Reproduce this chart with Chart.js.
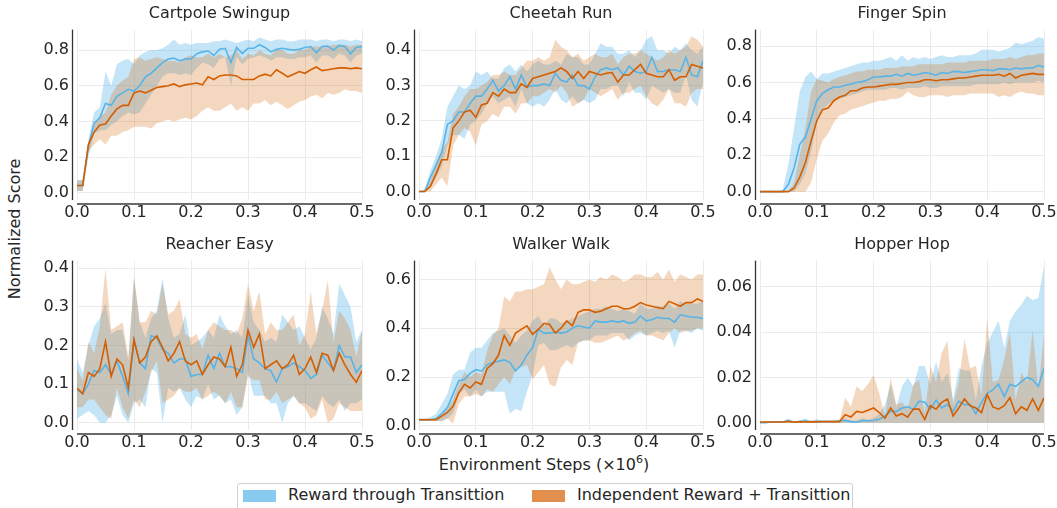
<!DOCTYPE html>
<html>
<head>
<meta charset="utf-8">
<script src="https://cdn.jsdelivr.net/npm/chart.js@4.4.0/dist/chart.umd.min.js"></script>
<style>
html,body{margin:0;padding:0;background:#fff;}
#fig{position:relative;width:1057px;height:508px;overflow:hidden;font-family:"DejaVu Sans",sans-serif;color:#262626;}
#fig canvas{position:absolute;}
.ttl{position:absolute;font-size:16px;line-height:18px;white-space:nowrap;transform:translateX(-50%);}
#ylab{position:absolute;left:15px;top:229px;font-size:16px;line-height:18px;white-space:nowrap;transform:translate(-50%,-50%) rotate(-90deg);}
#xlab{position:absolute;left:544px;top:456px;font-size:16px;line-height:18px;white-space:nowrap;transform:translateX(-50%);}
#xlab sup{font-size:11px;line-height:0;vertical-align:7px;}
#legend{position:absolute;left:237px;top:483px;width:614px;height:30px;border:1px solid #d0d0d0;border-radius:3px;background:#fff;}
.patch{position:absolute;top:6px;width:33px;height:12px;}
.ltxt{position:absolute;top:2px;font-size:16px;line-height:18px;white-space:nowrap;}
</style>
</head>
<body>
<div id="fig">
  <div id="ylab">Normalized Score</div>
  <div id="xlab">Environment Steps (×10<sup>6</sup>)</div>
  <div id="legend">
    <div class="patch" style="left:5px;background:rgba(86,180,233,0.7)"></div>
    <div class="ltxt" style="left:50px">Reward through Transittion</div>
    <div class="patch" style="left:294px;background:rgba(213,94,0,0.7)"></div>
    <div class="ltxt" style="left:339px">Independent Reward + Transittion</div>
  </div>
</div>

<script>
// ===== Data =====
const steps = [0,0.01,0.02,0.03,0.04,0.05,0.06,0.07,0.08,0.09,
  0.1,0.11,0.12,0.13,0.14,0.15,0.16,0.17,0.18,0.19,
  0.2,0.21,0.22,0.23,0.24,0.25,0.26,0.27,0.28,0.29,
  0.3,0.31,0.32,0.33,0.34,0.35,0.36,0.37,0.38,0.39,
  0.4,0.41,0.42,0.43,0.44,0.45,0.46,0.47,0.48,0.49,0.5];
const xTicks = [0,0.1,0.2,0.3,0.4,0.5];

// Cartpole Swingup
const cartpoleRtMean = [.04,.04,.26,.39,.42,.50,.49,.54,.56,.58,.57,.60,.65,.67,.70,.73,.75,.755,.74,.75,.75,.78,.79,.795,.77,.805,.81,.73,.815,.78,.81,.81,.83,.815,.79,.805,.81,.805,.80,.805,.815,.82,.785,.82,.823,.80,.826,.82,.78,.815,.82];
const cartpoleRtHi = [.07,.07,.30,.45,.48,.68,.60,.72,.74,.75,.72,.77,.79,.80,.80,.81,.83,.86,.83,.84,.83,.84,.84,.84,.85,.85,.86,.85,.84,.85,.86,.85,.87,.86,.85,.86,.86,.85,.85,.86,.86,.86,.85,.86,.86,.85,.86,.86,.85,.86,.85];
const cartpoleRtLo = [.01,.01,.20,.33,.35,.35,.38,.40,.43,.45,.44,.45,.50,.55,.60,.65,.67,.67,.66,.67,.66,.70,.73,.72,.70,.75,.76,.60,.76,.72,.75,.76,.77,.76,.74,.76,.76,.75,.75,.76,.76,.77,.73,.77,.77,.75,.78,.77,.73,.77,.78];
const cartpoleIndMean = [.04,.04,.27,.34,.38,.385,.43,.47,.49,.49,.56,.57,.56,.575,.59,.595,.60,.61,.595,.605,.61,.615,.605,.65,.635,.655,.66,.66,.655,.635,.635,.635,.655,.665,.655,.69,.67,.65,.665,.68,.67,.69,.705,.685,.69,.695,.70,.70,.695,.70,.695];
const cartpoleIndHi = [.07,.07,.28,.38,.43,.45,.55,.60,.63,.65,.75,.76,.74,.75,.76,.75,.74,.74,.73,.76,.77,.76,.76,.78,.76,.78,.76,.77,.80,.75,.78,.77,.80,.78,.77,.81,.80,.78,.78,.80,.80,.82,.82,.82,.82,.83,.83,.83,.82,.83,.83];
const cartpoleIndLo = [.01,.01,.23,.27,.30,.27,.32,.32,.34,.35,.37,.37,.37,.36,.39,.40,.41,.40,.41,.42,.41,.43,.46,.48,.46,.46,.48,.50,.46,.48,.46,.50,.50,.52,.49,.51,.49,.47,.49,.51,.52,.54,.55,.53,.56,.55,.56,.58,.57,.57,.56];

// Cheetah Run
const cheetahRtMean = [0,0,.04,.075,.11,.19,.20,.225,.225,.25,.27,.27,.29,.315,.285,.30,.325,.29,.33,.295,.30,.30,.305,.30,.335,.315,.31,.33,.30,.30,.29,.325,.345,.35,.345,.35,.33,.355,.34,.335,.34,.38,.34,.34,.345,.345,.34,.38,.33,.325,.37];
const cheetahRtHi = [0,.005,.06,.10,.15,.24,.27,.30,.29,.30,.34,.33,.34,.32,.32,.35,.36,.34,.36,.34,.36,.37,.36,.36,.37,.36,.39,.38,.38,.36,.36,.39,.42,.41,.41,.39,.39,.40,.38,.40,.43,.44,.40,.40,.39,.41,.40,.42,.40,.39,.41];
const cheetahRtLo = [0,0,.01,.04,.07,.13,.16,.16,.15,.19,.20,.22,.25,.27,.25,.26,.27,.24,.29,.25,.24,.25,.24,.26,.29,.26,.25,.27,.25,.26,.25,.26,.29,.29,.30,.30,.27,.31,.28,.28,.26,.30,.29,.28,.29,.28,.28,.33,.26,.24,.31];
const cheetahIndMean = [0,0,.015,.05,.09,.09,.18,.20,.225,.23,.21,.245,.25,.28,.27,.29,.28,.28,.305,.295,.32,.325,.33,.335,.34,.35,.34,.32,.34,.32,.34,.335,.33,.335,.337,.31,.33,.33,.345,.36,.335,.33,.325,.325,.345,.315,.325,.325,.36,.355,.35];
const cheetahIndHi = [0,.005,.03,.08,.12,.14,.22,.24,.27,.29,.29,.30,.31,.33,.33,.34,.33,.33,.35,.37,.37,.38,.37,.38,.43,.41,.40,.38,.39,.37,.38,.39,.38,.38,.39,.36,.38,.39,.39,.40,.39,.38,.37,.38,.40,.39,.40,.41,.44,.43,.41];
const cheetahIndLo = [0,0,0,.02,.04,.015,.13,.16,.18,.17,.13,.19,.20,.22,.21,.24,.24,.22,.25,.25,.27,.27,.28,.29,.28,.30,.28,.24,.25,.26,.29,.28,.27,.28,.29,.26,.28,.28,.29,.30,.27,.25,.24,.26,.29,.25,.25,.24,.28,.29,.29];

// Finger Spin
const fingerRtMean = [0,0,0,0,0,.04,.13,.26,.30,.40,.50,.54,.56,.575,.575,.585,.59,.60,.605,.615,.63,.63,.635,.635,.645,.635,.65,.64,.645,.655,.65,.64,.655,.65,.66,.66,.655,.66,.665,.67,.67,.665,.675,.675,.67,.68,.675,.68,.68,.695,.685];
const fingerRtHi = [0,0,0,0,.01,.15,.35,.55,.63,.66,.62,.65,.65,.66,.67,.68,.69,.70,.71,.71,.72,.72,.73,.74,.72,.75,.72,.74,.73,.74,.73,.74,.75,.74,.74,.75,.75,.75,.76,.78,.78,.78,.77,.78,.79,.82,.81,.82,.83,.85,.84];
const fingerRtLo = [0,0,0,0,0,0,0,.04,.10,.22,.38,.45,.48,.50,.51,.52,.53,.54,.55,.56,.56,.56,.56,.57,.57,.56,.57,.57,.57,.58,.57,.57,.58,.58,.58,.58,.58,.58,.59,.59,.59,.59,.59,.60,.59,.60,.60,.60,.60,.61,.60];
const fingerIndMean = [0,0,0,0,0,0,.02,.08,.16,.28,.39,.45,.46,.50,.52,.53,.555,.555,.57,.575,.575,.58,.585,.59,.59,.595,.60,.60,.605,.615,.615,.61,.615,.615,.62,.625,.625,.63,.635,.64,.64,.64,.645,.635,.65,.625,.64,.645,.65,.645,.645];
const fingerIndHi = [0,0,0,0,0,0,.05,.20,.35,.55,.62,.61,.60,.62,.63,.64,.65,.66,.66,.67,.67,.67,.68,.68,.68,.69,.69,.69,.70,.70,.70,.70,.70,.71,.71,.71,.71,.72,.72,.72,.72,.73,.73,.73,.74,.73,.74,.75,.75,.76,.76];
const fingerIndLo = [0,0,0,0,0,0,0,0,0,.05,.18,.28,.32,.38,.42,.43,.45,.46,.47,.48,.49,.50,.50,.51,.51,.52,.55,.53,.52,.52,.53,.53,.53,.52,.53,.53,.53,.54,.54,.54,.54,.54,.52,.53,.52,.54,.55,.54,.54,.53,.53];

// Reacher Easy
const reacherRtMean = [.085,.075,.10,.135,.13,.15,.125,.16,.12,.075,.215,.155,.14,.225,.22,.19,.18,.155,.165,.165,.12,.125,.125,.175,.14,.18,.145,.145,.14,.13,.225,.165,.155,.14,.135,.105,.14,.145,.155,.145,.135,.115,.125,.175,.155,.135,.20,.17,.17,.13,.15];
const reacherRtHi = [.165,.13,.20,.25,.27,.31,.23,.24,.24,.16,.375,.26,.22,.27,.29,.375,.27,.22,.23,.28,.20,.21,.22,.24,.22,.28,.25,.23,.24,.22,.33,.26,.24,.21,.22,.21,.28,.26,.24,.25,.22,.19,.22,.30,.27,.23,.36,.33,.30,.21,.24];
const reacherRtLo = [.01,.02,.03,.02,0,0,.02,.07,.02,0,.05,.06,.04,.14,.13,0,.09,.08,.09,.06,.04,.07,.06,.10,.06,.07,.05,.06,.02,.04,.13,.07,.07,.07,.05,.05,0,.05,.07,.05,.05,.04,.03,.07,.05,.04,.06,.03,.05,.05,.06];
const reacherIndMean = [.09,.075,.13,.12,.14,.21,.12,.165,.15,.09,.215,.155,.17,.21,.225,.195,.16,.18,.21,.16,.15,.16,.125,.15,.17,.165,.145,.195,.12,.15,.24,.195,.23,.14,.15,.16,.14,.15,.175,.125,.14,.17,.13,.18,.175,.135,.18,.15,.125,.105,.135];
const reacherIndHi = [.14,.11,.21,.18,.25,.40,.24,.25,.26,.17,.38,.26,.26,.29,.28,.36,.28,.29,.32,.23,.22,.23,.19,.24,.26,.25,.24,.24,.23,.27,.36,.29,.34,.23,.26,.24,.24,.26,.28,.20,.23,.34,.23,.29,.37,.21,.29,.27,.24,.17,.24];
const reacherIndLo = [.04,.04,.06,.06,.04,.02,.01,.09,.04,.01,.06,.04,.08,.13,.16,.05,.06,.07,.09,.08,.08,.09,.06,.07,.08,.07,.05,.08,.04,.04,.12,.11,.11,.06,.06,.08,.05,.06,.07,.05,.04,.01,.02,.06,0,.01,.05,.04,.03,.03,.03];

// Walker Walk
const walkerRtMean = [.025,.025,.025,.03,.05,.075,.13,.185,.19,.215,.23,.225,.25,.26,.265,.27,.26,.225,.25,.29,.32,.395,.38,.38,.385,.38,.385,.40,.41,.405,.40,.43,.425,.425,.43,.425,.43,.42,.425,.45,.43,.435,.445,.44,.44,.425,.455,.45,.445,.445,.44];
const walkerRtHi = [.03,.03,.035,.05,.09,.13,.21,.23,.23,.30,.32,.32,.35,.38,.39,.40,.37,.34,.37,.39,.43,.45,.41,.44,.44,.42,.43,.44,.45,.46,.47,.48,.48,.49,.48,.47,.48,.47,.46,.50,.48,.48,.49,.49,.50,.48,.51,.50,.50,.50,.51];
const walkerRtLo = [.02,.02,.02,.02,.02,.03,.05,.13,.15,.12,.15,.12,.14,.14,.14,.14,.05,.07,.06,.14,.21,.33,.34,.31,.31,.32,.33,.32,.34,.35,.35,.37,.37,.37,.38,.38,.38,.35,.37,.38,.37,.38,.39,.38,.39,.32,.39,.39,.38,.40,.39];
const walkerIndMean = [.025,.025,.025,.025,.04,.055,.08,.135,.17,.155,.18,.17,.235,.255,.29,.37,.33,.38,.395,.41,.375,.395,.42,.415,.38,.40,.43,.41,.465,.475,.475,.465,.47,.48,.49,.49,.48,.48,.49,.505,.495,.49,.485,.48,.51,.50,.49,.505,.505,.52,.51];
const walkerIndHi = [.03,.03,.03,.03,.05,.07,.11,.17,.22,.20,.22,.21,.31,.37,.40,.53,.51,.55,.55,.56,.56,.57,.58,.65,.60,.56,.60,.58,.58,.59,.60,.59,.61,.60,.62,.61,.59,.60,.62,.62,.61,.61,.63,.60,.64,.59,.62,.61,.60,.62,.62];
const walkerIndLo = [.02,.02,.02,.02,.02,.03,.01,.09,.12,.12,.13,.12,.15,.14,.17,.20,.17,.23,.24,.25,.19,.22,.25,.17,.16,.24,.27,.25,.34,.35,.35,.34,.34,.35,.36,.37,.35,.36,.38,.39,.37,.37,.36,.35,.38,.40,.38,.39,.39,.40,.40];

// Hopper Hop
const hopperRtMean = [0,0,.0003,.0003,.0003,.0008,.0002,.0005,.0008,.0003,.0006,.0005,.0005,.0005,.0008,.001,.0005,.0002,.001,.0008,.001,.0015,.003,.005,.005,.0065,.007,.006,.0095,.009,.006,.01,.0065,.008,.005,.0095,.008,.008,.004,.009,.013,.0145,.017,.0115,.017,.016,.018,.02,.019,.016,.024];
const hopperRtHi = [.0005,.0005,.0006,.0005,.0006,.002,.0005,.001,.002,.0006,.0015,.001,.001,.001,.001,.002,.001,.001,.002,.0015,.002,.004,.008,.017,.007,.016,.020,.016,.025,.025,.017,.027,.018,.022,.010,.024,.023,.023,.010,.025,.035,.040,.045,.033,.045,.049,.052,.056,.054,.055,.069];
const hopperRtLo = [0,0,0,0,0,0,0,0,0,0,0,0,0,0,0,0,0,0,0,0,0,0,0,0,0,0,0,0,0,0,0,0,0,0,0,0,0,0,0,0,0,0,0,0,0,0,0,0,0,0,0];
const hopperIndMean = [.0003,.0003,.0003,.0003,.0003,.0006,.0002,.0005,.0003,.0005,.0004,.0005,.0005,.0005,.0005,.0035,.0025,.005,.0045,.0055,.0065,.0045,.002,.0065,.003,.004,.0025,.006,.006,.0015,.0075,.006,.009,.0105,.003,.0065,.0105,.0075,.0065,.0045,.0125,.007,.006,.0075,.011,.004,.007,.0055,.0105,.0055,.011];
const hopperIndHi = [.0008,.0008,.0008,.0008,.0008,.0012,.0008,.0008,.0008,.0008,.0008,.0008,.0008,.0008,.001,.011,.007,.016,.014,.017,.021,.013,.003,.020,.008,.009,.006,.017,.019,.004,.025,.018,.031,.036,.008,.018,.037,.024,.025,.012,.046,.018,.019,.028,.040,.010,.022,.018,.041,.015,.039];
const hopperIndLo = [0,0,0,0,0,0,0,0,0,0,0,0,0,0,0,0,0,0,0,0,0,0,0,0,0,0,0,0,0,0,0,0,0,0,0,0,0,0,0,0,0,0,0,0,0,0,0,0,0,0,0];

// ===== Style =====
const FONT = 'DejaVu Sans';
const BLUE = '#56B4E9', ORANGE = '#D55E00';
const BLUE_BAND = 'rgba(86,180,233,0.35)', ORANGE_BAND = 'rgba(213,94,0,0.25)';
const PAD_L = 70, PAD_R = 16, PAD_T = 10, PAD_B = 24;

Chart.defaults.font.family = FONT;
Chart.defaults.color = '#262626';

// offset spines like seaborn's despine(offset=...)
const offsetSpines = {
    id: 'offsetSpines',
    afterDraw(chart){
        const {ctx, chartArea:a} = chart;
        ctx.save();
        ctx.strokeStyle = '#333'; ctx.lineWidth = 1.3;
        ctx.beginPath(); ctx.moveTo(a.left-4.5, a.top); ctx.lineTo(a.left-4.5, a.bottom); ctx.stroke();
        ctx.strokeStyle = '#6a6a6a'; ctx.lineWidth = 2;
        ctx.beginPath(); ctx.moveTo(a.left, a.bottom+4); ctx.lineTo(a.right, a.bottom+4); ctx.stroke();
        ctx.restore();
    }
};

function pts(arr){ return steps.map((s,i)=>({x:s, y:arr[i]})); }

function bandSets(lo, hi, color){
    return [
        { data: pts(lo), borderWidth:0, borderColor:'transparent', pointRadius:0, fill:false },
        { data: pts(hi), borderWidth:0, borderColor:'transparent', pointRadius:0, fill:'-1', backgroundColor: color }
    ];
}

function lineSet(mean, color){
    return { data: pts(mean), borderColor: color, borderWidth: 1.6, pointRadius: 0, fill: false, tension: 0 };
}

// ===== Panels =====
function makePanel(p){
    const fig = document.getElementById('fig');
    const cv = document.createElement('canvas');
    const W = PAD_L + p.w + PAD_R, H = PAD_T + p.h + PAD_B;
    cv.width = W; cv.height = H;
    cv.style.left = (p.l - PAD_L) + 'px';
    cv.style.top = (p.t - PAD_T) + 'px';
    cv.style.width = W + 'px'; cv.style.height = H + 'px';
    fig.appendChild(cv);

    const ttl = document.createElement('div');
    ttl.className = 'ttl';
    ttl.textContent = p.title;
    ttl.style.left = (p.l + p.w/2) + 'px';
    ttl.style.top = (p.t - 18) + 'px';
    fig.appendChild(ttl);

    // lower index is painted last in Chart.js, so the orange series comes first
    new Chart(cv.getContext('2d'), {
        type: 'line',
        data: { datasets: [
            ...bandSets(p.indLo, p.indHi, ORANGE_BAND),
            ...bandSets(p.rtLo, p.rtHi, BLUE_BAND),
            lineSet(p.indMean, ORANGE),
            lineSet(p.rtMean, BLUE)
        ]},
        options: {
            responsive: false,
            animation: false,
            events: [],
            layout: { padding: { left:0, right:PAD_R, top:PAD_T, bottom:0 } },
            plugins: {
                legend:{display:false}, tooltip:{enabled:false}, title:{display:false},
                filler:{ drawTime:'beforeDatasetsDraw' }
            },
            scales: {
                x: {
                    type: 'linear', min: 0, max: 0.5,
                    afterBuildTicks: s => { s.ticks = xTicks.map(v=>({value:v})); },
                    afterFit: s => { s.height = PAD_B; },
                    grid: { color:'#ebebeb', lineWidth:1, drawTicks:false },
                    border: { display:false },
                    ticks: { padding:3, font:{size:16}, maxRotation:0, autoSkip:false, callback: v => v.toFixed(1) }
                },
                y: {
                    min: p.yMin, max: p.yMax,
                    afterBuildTicks: s => { s.ticks = p.yTicks.map(v=>({value:v})); },
                    afterFit: s => { s.width = PAD_L; },
                    grid: { color:'#ebebeb', lineWidth:1, drawTicks:false },
                    border: { display:false },
                    ticks: { padding:8, font:{size:16}, autoSkip:false, callback: v => v.toFixed(p.dec) }
                }
            }
        },
        plugins: [offsetSpines]
    });
}

makePanel({ title:'Cartpole Swingup', l:77, t:22, w:285, h:178, yMin:-0.041, yMax:0.915, yTicks:[0,0.2,0.4,0.6,0.8], dec:1,
    rtMean:cartpoleRtMean, rtLo:cartpoleRtLo, rtHi:cartpoleRtHi, indMean:cartpoleIndMean, indLo:cartpoleIndLo, indHi:cartpoleIndHi });
makePanel({ title:'Cheetah Run', l:419, t:22, w:284, h:178, yMin:-0.024, yMax:0.4585, yTicks:[0,0.1,0.2,0.3,0.4], dec:1,
    rtMean:cheetahRtMean, rtLo:cheetahRtLo, rtHi:cheetahRtHi, indMean:cheetahIndMean, indLo:cheetahIndLo, indHi:cheetahIndHi });
makePanel({ title:'Finger Spin', l:760, t:22, w:284, h:178, yMin:-0.046, yMax:0.891, yTicks:[0,0.2,0.4,0.6,0.8], dec:1,
    rtMean:fingerRtMean, rtLo:fingerRtLo, rtHi:fingerRtHi, indMean:fingerIndMean, indLo:fingerIndLo, indHi:fingerIndHi });
makePanel({ title:'Reacher Easy', l:77, t:253, w:285, h:177, yMin:-0.019, yMax:0.42, yTicks:[0,0.1,0.2,0.3,0.4], dec:1,
    rtMean:reacherRtMean, rtLo:reacherRtLo, rtHi:reacherRtHi, indMean:reacherIndMean, indLo:reacherIndLo, indHi:reacherIndHi });
makePanel({ title:'Walker Walk', l:419, t:253, w:284, h:177, yMin:-0.017, yMax:0.677, yTicks:[0,0.2,0.4,0.6], dec:1,
    rtMean:walkerRtMean, rtLo:walkerRtLo, rtHi:walkerRtHi, indMean:walkerIndMean, indLo:walkerIndLo, indHi:walkerIndHi });
makePanel({ title:'Hopper Hop', l:760, t:253, w:284, h:177, yMin:-0.0032, yMax:0.0715, yTicks:[0,0.02,0.04,0.06], dec:2,
    rtMean:hopperRtMean, rtLo:hopperRtLo, rtHi:hopperRtHi, indMean:hopperIndMean, indLo:hopperIndLo, indHi:hopperIndHi });
</script>
</body>
</html>
